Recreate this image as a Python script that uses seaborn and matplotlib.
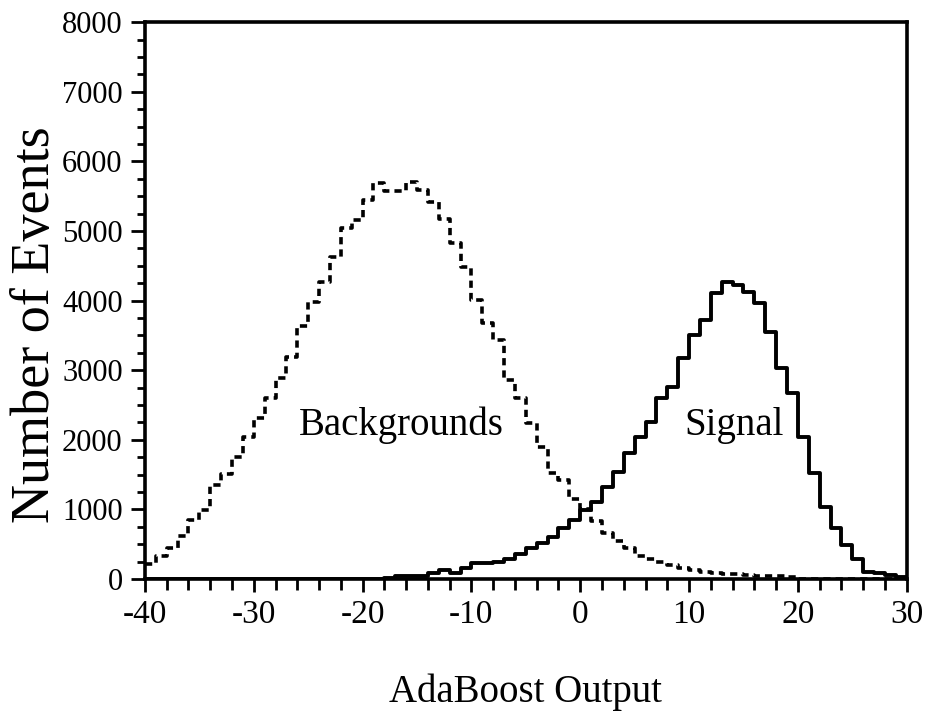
# AdaBoost output distribution: backgrounds (dashed) vs signal (solid)
import numpy as np
import pandas as pd
import matplotlib
matplotlib.use("Agg")
import matplotlib.pyplot as plt
from matplotlib.ticker import MultipleLocator
import seaborn as sns

# bins of width 1 from -40 to 30
bin_edges = np.arange(-40, 31, 1)

# counts per bin
background_counts = [
    215, 330, 445, 618, 848, 991, 1350, 1509, 1753, 2040,
    2313, 2600, 2888, 3190, 3635, 3980, 4267, 4626, 5043, 5158,
    5445, 5690, 5580, 5580, 5700, 5590, 5420, 5170, 4825, 4487,
    4008, 3678, 3434, 2859, 2600, 2241, 1897, 1523, 1422, 1150,
    1000, 840, 665, 545, 450, 325, 280, 240, 200, 160,
    125, 95, 90, 72, 68, 55, 45, 40, 38, 35,
    0, 0, 0, 0, 0, 0, 0, 0, 0, 0,
]
signal_counts = [
    0, 0, 0, 0, 0, 0, 0, 0, 0, 0,
    0, 0, 0, 0, 0, 0, 0, 0, 0, 0,
    0, 0, 15, 43, 45, 50, 91, 129, 91, 163,
    234, 234, 240, 290, 360, 443, 520, 600, 733, 848,
    991, 1100, 1325, 1540, 1810, 2040, 2256, 2600, 2759, 3175,
    3506, 3721, 4109, 4267, 4224, 4124, 3965, 3549, 3032, 2672,
    2040, 1523, 1034, 733, 489, 290, 105, 86, 57, 33,
]

sns.set_style("ticks")
plt.rcParams["font.family"] = ["Liberation Serif", "DejaVu Serif"]
plt.rcParams["text.color"] = "black"
plt.rcParams["axes.labelcolor"] = "black"
plt.rcParams["axes.unicode_minus"] = False

df = pd.DataFrame({
    "output": bin_edges[:-1] + 0.5,
    "background": background_counts,
    "signal": signal_counts,
})

fig = plt.figure(figsize=(9.29, 7.26), dpi=100)
ax = fig.add_axes([0.156, 0.2025, 0.820, 0.767])

sns.histplot(data=df, x="output", weights="background", binwidth=1,
             binrange=(-40, 30), element="step", fill=False, color="black",
             linewidth=2.6, linestyle=(0, (2, 1.4)), ax=ax)
sns.histplot(data=df, x="output", weights="signal", binwidth=1,
             binrange=(-40, 30), element="step", fill=False, color="black",
             linewidth=2.8, ax=ax)

ax.set_xlim(-40, 30)
ax.set_ylim(0, 8000)
ax.xaxis.set_major_locator(MultipleLocator(10))
ax.xaxis.set_minor_locator(MultipleLocator(2))
ax.yaxis.set_major_locator(MultipleLocator(1000))
ax.yaxis.set_minor_locator(MultipleLocator(250))
ax.tick_params(which="both", direction="out", width=2, colors="black",
               labelsize=24, top=False, right=False)
ax.tick_params(axis="y", labelsize=22)
ax.tick_params(axis="x", which="major", length=9, pad=6)
ax.tick_params(axis="x", which="minor", length=8)
ax.tick_params(axis="y", which="major", length=10, pad=6)
ax.tick_params(axis="y", which="minor", length=6)

for side in ["left", "right", "top", "bottom"]:
    ax.spines[side].set_visible(True)
    ax.spines[side].set_linewidth(2.6)
    ax.spines[side].set_color("black")

ax.set_xlabel("AdaBoost Output", fontsize=28)
ax.set_ylabel("Number of Events", fontsize=39)
ax.xaxis.set_label_coords(0.5, -0.17)
ax.yaxis.set_label_coords(-0.11, 0.456)

ax.text(-16.4, 2212, "Backgrounds", fontsize=28, ha="center", va="center")
ax.text(14.1, 2212, "Signal", fontsize=28, ha="center", va="center")

fig.savefig("out.png", dpi=100)
